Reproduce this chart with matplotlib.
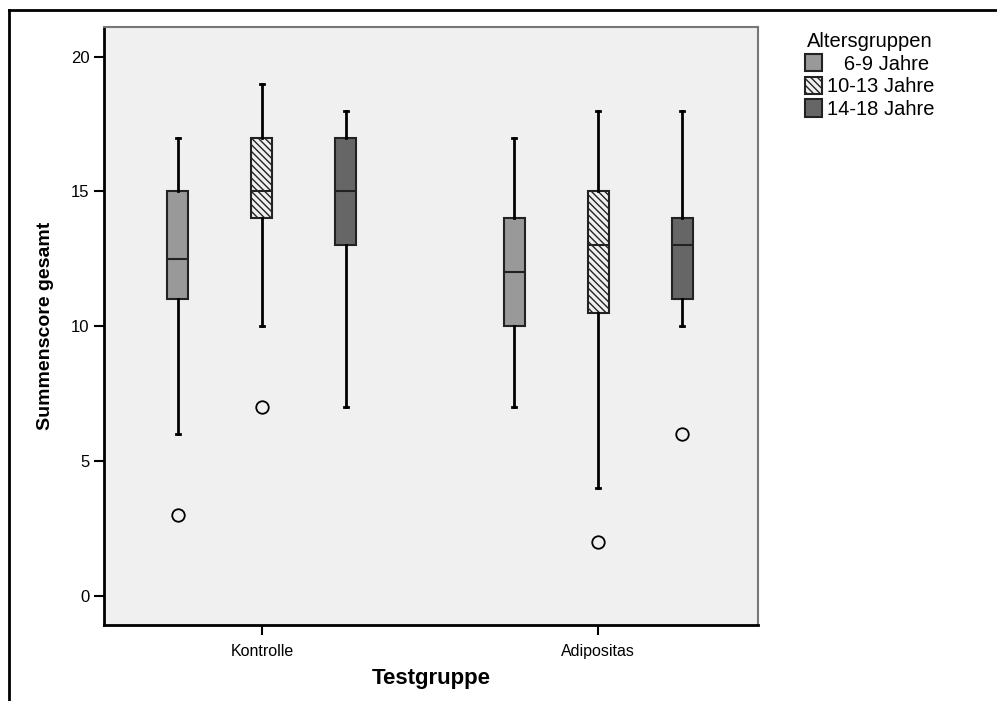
import matplotlib
matplotlib.use("Agg")
import matplotlib.pyplot as plt
from matplotlib.patches import Patch
from matplotlib.lines import Line2D

plt.rcParams['font.family'] = ['Liberation Sans', 'DejaVu Sans']
plt.rcParams['hatch.linewidth'] = 1.0

groups = ["Kontrolle", "Adipositas"]
age_groups = ["6-9 Jahre", "10-13 Jahre", "14-18 Jahre"]
legend_labels = ["   6-9 Jahre", "10-13 Jahre", "14-18 Jahre"]

# per group, per age group: whislo, q1, med, q3, whishi, outliers
whislo = [[6, 10, 7], [7, 4, 10]]
q1 = [[11, 14, 13], [10, 10.5, 11]]
med = [[12.5, 15, 15], [12, 13, 13]]
q3 = [[15, 17, 17], [14, 15, 14]]
whishi = [[17, 19, 18], [17, 18, 18]]
fliers = [[[3], [7], []], [[], [2], [6]]]

face_colors = ["#999999", "#f0f0f0", "#666666"]
hatches = [None, "\\\\\\\\\\", None]
offsets = [-0.25, 0.0, 0.25]

fig = plt.figure(figsize=(9.97, 7.01), dpi=100)
ax = fig.add_axes([104/997, 1-625/701, (758-104)/997, (625-27)/701])
ax.set_facecolor("#f0f0f0")

for gi, g in enumerate(groups):
    for ai in range(3):
        stats = [dict(whislo=whislo[gi][ai], q1=q1[gi][ai], med=med[gi][ai],
                      q3=q3[gi][ai], whishi=whishi[gi][ai], fliers=fliers[gi][ai])]
        ax.bxp(stats, positions=[gi + offsets[ai]], widths=0.0625,
               patch_artist=True, showfliers=True,
               boxprops=dict(facecolor=face_colors[ai], edgecolor="#222222", linewidth=1.5,
                             hatch=hatches[ai]),
               medianprops=dict(color="#222222", linewidth=1.5),
               whiskerprops=dict(color="black", linewidth=2),
               capprops=dict(color="black", linewidth=2),
               capwidths=0.014,
               flierprops=dict(marker="o", markerfacecolor="none", markeredgecolor="black",
                               markersize=9, markeredgewidth=1.3))

ax.set_xlim(-0.47, 1.476)
ax.set_ylim(-1.08, 21.1)
ax.set_xticks([0, 1])
ax.set_xticklabels(groups, fontsize=11.5)
ax.set_yticks([0, 5, 10, 15, 20])
ax.set_yticklabels(["0", "5", "10", "15", "20"], fontsize=12)
ax.tick_params(axis="both", direction="out", length=7, width=1.5, color="black")
ax.tick_params(axis="x", pad=7)

for s in ["left", "bottom"]:
    ax.spines[s].set_color("black")
    ax.spines[s].set_linewidth(2)
for s in ["top", "right"]:
    ax.spines[s].set_color("#777777")
    ax.spines[s].set_linewidth(1.5)

ax.set_xlabel("Testgruppe", fontsize=16, fontweight="bold", labelpad=6)
ax.set_ylabel("Summenscore gesamt", fontsize=14, fontweight="bold", labelpad=12)

handles = [Patch(facecolor=face_colors[i], edgecolor="#222222", linewidth=1.5, hatch=hatches[i])
           for i in range(3)]
fig.legend(handles, legend_labels, title="Altersgruppen", loc="upper left",
           bbox_to_anchor=(797/997, 1-24/701), frameon=False, fontsize=14.5,
           title_fontsize=14.5, handlelength=0.85, handleheight=0.95, handletextpad=0.25,
           labelspacing=0.15, borderaxespad=0)

# outer frame lines
fig.add_artist(Line2D([9/997, 1], [1-10/701, 1-10/701], transform=fig.transFigure,
                      color="black", linewidth=2))
fig.add_artist(Line2D([9/997, 9/997], [0, 1-10/701], transform=fig.transFigure,
                      color="black", linewidth=2))

fig.savefig("out.png", dpi=100)
